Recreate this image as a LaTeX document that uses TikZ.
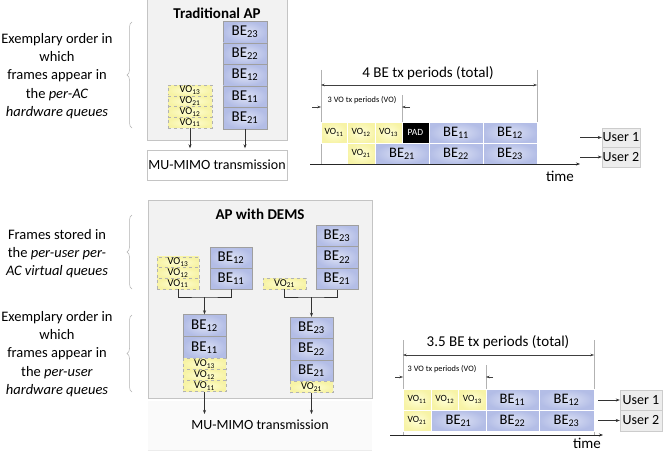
\documentclass[tikz,border=0pt]{standalone}
\usepackage{fontspec}
\setmainfont{Carlito}
\usetikzlibrary{arrows.meta,decorations.pathreplacing}
\definecolor{panel}{HTML}{F2F2F2}
\definecolor{panelline}{HTML}{C4C4C4}
\definecolor{beblue}{HTML}{B3BDE6}
\definecolor{belight}{HTML}{DDE2F5}
\definecolor{volight}{HTML}{FFFFD6}
\definecolor{voyel}{HTML}{F7F3A6}
\definecolor{userbox}{HTML}{EDEDED}
\newcommand\lidx[1]{\textsubscript{#1}}
\tikzset{
  bebox/.style={draw=gray!75, inner color=belight, outer color=beblue, minimum width=44, minimum height=21.5, inner sep=0, font=\fontsize{15}{15}\selectfont},
  vobox/.style={draw=gray!60, dashed, inner color=volight, outer color=voyel, minimum width=44, minimum height=10.75, inner sep=0, font=\fontsize{10.5}{10.5}\selectfont},
  tbe/.style={draw=white, line width=0.5, inner color=belight, outer color=beblue, minimum height=21, inner sep=0, font=\fontsize{14.5}{14.5}\selectfont},
  tvo/.style={draw=white, line width=0.5, inner color=volight, outer color=voyel, minimum height=21, inner sep=0, font=\fontsize{9.5}{9.5}\selectfont},
  arr/.style={-{Stealth[length=4pt,width=3pt]}, draw=gray!40!black, line width=0.6},
  conn/.style={draw=gray!40!black, line width=0.8},
  dimarr/.style={{Stealth[length=3.5pt,width=2.5pt]}-{Stealth[length=3.5pt,width=2.5pt]}, draw=gray!50!black, line width=0.4},
  smallarr/.style={-{Stealth[length=3.5pt,width=2.5pt]}, draw=gray!50!black, line width=0.4},
  dimline/.style={draw=gray!60, line width=0.5},
  brc/.style={draw=gray!60, line width=0.5, decorate, decoration={brace, amplitude=5pt}},
  lbl/.style={align=center, font=\fontsize{14.5}{18.2}\selectfont},
  ubox/.style={draw=gray!40, fill=userbox, inner sep=0, font=\fontsize{14}{14}\selectfont},
  title/.style={font=\bfseries\fontsize{15}{15}\selectfont},
  bigtxt/.style={font=\fontsize{15}{15}\selectfont},
  smalltxt/.style={font=\fontsize{8.3}{8.3}\selectfont},
  mimotxt/.style={font=\fontsize{14}{14}\selectfont},
}
\begin{document}
\begin{tikzpicture}[x=1pt,y=-1pt]
\useasboundingbox[fill=white] (0,0) rectangle (664,452);

% ===================== Traditional AP =====================
\draw[draw=panelline, fill=panel] (147,-3) rectangle (287,140);
\node[title] (tradtitle) at (217,13) {Traditional AP};
\node[bebox] (tbe23) at (245,32) {BE\lidx{23}};
\node[bebox] (tbe22) at (245,53.5) {BE\lidx{22}};
\node[bebox] (tbe12) at (245,75) {BE\lidx{12}};
\node[bebox] (tbe11) at (245,96.5) {BE\lidx{11}};
\node[bebox] (tbe21) at (245,118) {BE\lidx{21}};
\node[vobox] (tvo13) at (190,90.4) {VO\lidx{13}};
\node[vobox] (tvo21) at (190,101.1) {VO\lidx{21}};
\node[vobox] (tvo12) at (190,111.9) {VO\lidx{12}};
\node[vobox] (tvo11) at (190,122.6) {VO\lidx{11}};
\node[draw=panelline, fill=white, minimum width=140, minimum height=30, inner sep=0, mimotxt] (mimoA) at (217,165) {MU-MIMO transmission};
\draw[arr, shorten >=1.5pt] (tvo11.south) -- (tvo11.south |- mimoA.north);
\draw[arr, shorten >=1.5pt] (tbe21.south) -- (tbe21.south |- mimoA.north);

\node[lbl] (lblA) at (57,76) {Exemplary order in\\which\\frames appear in\\the \textit{per-AC}\\\textit{hardware queues}};
\coordinate (brAb) at (132,128);
\coordinate (brAt) at (132,22);
\draw[brc] (brAb) -- (brAt);

% ===================== Top timeline =====================
\coordinate (d1a) at (321,70);
\coordinate (d1b) at (321,164);
\coordinate (d1c) at (537,70);
\coordinate (d1d) at (537,164);
\draw[dimline] (d1a) -- (d1b);
\draw[dimline] (d1c) -- (d1d);
\coordinate (d1l) at (321,85);
\coordinate (d1r) at (537,85);
\draw[dimarr] (d1l) -- (d1r);
\node[bigtxt] (tot1) at (428,73) {4 BE tx periods (total)};
\node[smalltxt] (vop1) at (362,100) {3 VO tx periods (VO)};
\coordinate (v1a) at (402,95);
\coordinate (v1b) at (402,122);
\draw[dimline] (v1a) -- (v1b);
\coordinate (s1a) at (312,107);
\coordinate (s1b) at (321,107);
\coordinate (s1c) at (410,107);
\coordinate (s1d) at (402,107);
\draw[smallarr] (s1a) -- (s1b);
\draw[smallarr] (s1c) -- (s1d);

\node[tvo, minimum width=26] (a_vo11) at (334,132.5) {VO\lidx{11}};
\node[tvo, minimum width=28] (a_vo12) at (361,132.5) {VO\lidx{12}};
\node[tvo, minimum width=27] (a_vo13) at (388.5,132.5) {VO\lidx{13}};
\node[draw=white, line width=0.5, fill=black, text=white, minimum width=27, minimum height=21, inner sep=0, font=\fontsize{9.5}{9.5}\selectfont] (a_pad) at (415.5,132.5) {PAD};
\node[tbe, minimum width=54] (a_be11) at (456,132.5) {BE\lidx{11}};
\node[tbe, minimum width=54] (a_be12) at (510,132.5) {BE\lidx{12}};
\node[tvo, minimum width=28] (a_vo21) at (361,153.5) {VO\lidx{21}};
\node[tbe, minimum width=54] (a_be21) at (402,153.5) {BE\lidx{21}};
\node[tbe, minimum width=54] (a_be22) at (456,153.5) {BE\lidx{22}};
\node[tbe, minimum width=54] (a_be23) at (510,153.5) {BE\lidx{23}};

\coordinate (ax1s) at (310,164);
\coordinate (ax1e) at (580,164);
\draw[arr, draw=gray!30!black, line width=0.8] (ax1s) -- (ax1e);
\node[bigtxt] (time1) at (560,176) {time};

\node[ubox, minimum width=38, minimum height=19.5] (u1) at (621,137.5) {User 1};
\node[ubox, minimum width=38, minimum height=19.5] (u2) at (621,157) {User 2};
\coordinate (u1s) at (580,137.5);
\coordinate (u2s) at (580,157);
\draw[arr] (u1s) -- (u1.west);
\draw[arr] (u2s) -- (u2.west);

% ===================== AP with DEMS =====================
\draw[draw=panelline, fill=panel] (148,200) rectangle (372,398);
\node[fill=gray!4, minimum width=224, minimum height=49, inner sep=0, mimotxt] (mimoB) at (260,425) {MU-MIMO transmission};
\draw[draw=panelline] (148,398) -- (372,398);
\draw[draw=gray!15] (mimoB.south west) -- (mimoB.south east);
\node[title] (demstitle) at (260,214) {AP with DEMS};

% virtual queues user 1
\node[vobox, minimum width=42, minimum height=10.67] (vvo13) at (178,262.3) {VO\lidx{13}};
\node[vobox, minimum width=42, minimum height=10.67] (vvo12) at (178,273) {VO\lidx{12}};
\node[vobox, minimum width=42, minimum height=10.67] (vvo11) at (178,283.7) {VO\lidx{11}};
\node[bebox, minimum width=42, minimum height=21] (vbe12) at (231,257.5) {BE\lidx{12}};
\node[bebox, minimum width=42, minimum height=21] (vbe11) at (231,278.5) {BE\lidx{11}};
% virtual queues user 2
\node[vobox, minimum width=43, minimum height=11] (vvo21) at (284.5,283.5) {VO\lidx{21}};
\node[bebox, minimum width=42] (vbe23) at (337,235.75) {BE\lidx{23}};
\node[bebox, minimum width=42] (vbe22) at (337,257.25) {BE\lidx{22}};
\node[bebox, minimum width=42] (vbe21) at (337,278.75) {BE\lidx{21}};

% hardware queues user 1
\node[bebox, minimum width=43, minimum height=22] (hbe12) at (204.5,325.5) {BE\lidx{12}};
\node[bebox, minimum width=43, minimum height=22] (hbe11) at (204.5,347.5) {BE\lidx{11}};
\node[vobox, minimum width=43, minimum height=11] (hvo13) at (204.5,364) {VO\lidx{13}};
\node[vobox, minimum width=43, minimum height=11] (hvo12) at (204.5,375) {VO\lidx{12}};
\node[vobox, minimum width=43, minimum height=11] (hvo11) at (204.5,386) {VO\lidx{11}};
% hardware queues user 2
\node[bebox, minimum width=43] (hbe23) at (311.5,327.75) {BE\lidx{23}};
\node[bebox, minimum width=43] (hbe22) at (311.5,349.25) {BE\lidx{22}};
\node[bebox, minimum width=43] (hbe21) at (311.5,370.75) {BE\lidx{21}};
\node[vobox, minimum width=43, minimum height=11] (hvo21) at (311.5,387) {VO\lidx{21}};

\coordinate (j1) at (204.5,297);
\coordinate (j2) at (311.5,297);
\draw[conn] (vvo11.south) |- (j1) -| (vbe11.south);
\draw[conn] (vvo21.south) |- (j2) -| (vbe21.south);
\draw[arr] (j1) -- (hbe12.north);
\draw[arr] (j2) -- (hbe23.north);
\coordinate (m1) at (204.5,414);
\coordinate (m2) at (311.5,414);
\draw[arr] (hvo11.south) -- (m1);
\draw[arr] (hvo21.south) -- (m2);

\node[lbl] (lblB) at (57,253.5) {Frames stored in\\the \textit{per-user per-}\\\textit{AC virtual queues}};
\coordinate (brBb) at (132,289);
\coordinate (brBt) at (132,215);
\draw[brc] (brBb) -- (brBt);
\node[lbl] (lblC) at (57,354) {Exemplary order in\\which\\frames appear in\\the \textit{per-user}\\\textit{hardware queues}};
\coordinate (brCb) at (132,392);
\coordinate (brCt) at (132,315);
\draw[brc] (brCb) -- (brCt);

% ===================== Bottom timeline =====================
\coordinate (d2a) at (403,340);
\coordinate (d2b) at (403,435);
\coordinate (d2c) at (594,340);
\coordinate (d2d) at (594,435);
\draw[dimline] (d2a) -- (d2b);
\draw[dimline] (d2c) -- (d2d);
\coordinate (d2l) at (403,355);
\coordinate (d2r) at (594,355);
\draw[dimarr] (d2l) -- (d2r);
\node[bigtxt] (tot2) at (498,342) {3.5 BE tx periods (total)};
\node[smalltxt] (vop2) at (442,369) {3 VO tx periods (VO)};
\coordinate (v2a) at (486,365);
\coordinate (v2b) at (486,389);
\draw[dimline] (v2a) -- (v2b);
\coordinate (s2a) at (395,377);
\coordinate (s2b) at (403,377);
\coordinate (s2c) at (493,377);
\coordinate (s2d) at (486,377);
\draw[smallarr] (s2a) -- (s2b);
\draw[smallarr] (s2c) -- (s2d);

\node[tvo, minimum width=28] (b_vo11) at (417,399.5) {VO\lidx{11}};
\node[tvo, minimum width=27.5] (b_vo12) at (444.75,399.5) {VO\lidx{12}};
\node[tvo, minimum width=27.5] (b_vo13) at (472.25,399.5) {VO\lidx{13}};
\node[tbe, minimum width=53] (b_be11) at (512.5,399.5) {BE\lidx{11}};
\node[tbe, minimum width=55] (b_be12) at (566.5,399.5) {BE\lidx{12}};
\node[tvo, minimum width=28] (b_vo21) at (417,420.5) {VO\lidx{21}};
\node[tbe, minimum width=55] (b_be21) at (458.5,420.5) {BE\lidx{21}};
\node[tbe, minimum width=53] (b_be22) at (512.5,420.5) {BE\lidx{22}};
\node[tbe, minimum width=55] (b_be23) at (566.5,420.5) {BE\lidx{23}};

\coordinate (ax2s) at (390,435);
\coordinate (ax2e) at (603,435);
\draw[arr, draw=gray!30!black, line width=0.8] (ax2s) -- (ax2e);
\node[bigtxt, anchor=north, inner sep=0] (time2) at (587,437.5) {time};

\node[ubox, minimum width=42, minimum height=20.5] (u3) at (641,400) {User 1};
\node[ubox, minimum width=42, minimum height=20.5] (u4) at (641,420.5) {User 2};
\coordinate (u3s) at (598,400);
\coordinate (u4s) at (598,420.5);
\draw[arr] (u3s) -- (u3.west);
\draw[arr] (u4s) -- (u4.west);
\end{tikzpicture}
\end{document}
